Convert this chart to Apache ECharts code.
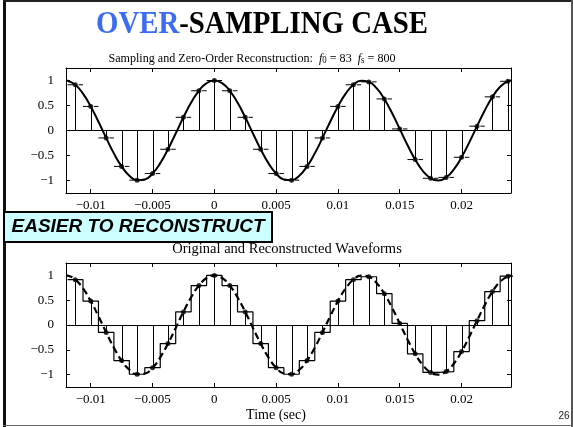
<!DOCTYPE html>
<html>
<head>
<meta charset="utf-8">
<script src="https://cdn.jsdelivr.net/npm/echarts@6/dist/echarts.min.js"></script>
<style>
html,body{margin:0;padding:0;background:#fff;}
#main{width:573px;height:427px;}
</style>
</head>
<body>
<div id="main"></div>
<script>
// ---- data ----
var sampleTimes = [-0.01125, -0.01, -0.00875, -0.0075, -0.00625, -0.005, -0.00375, -0.0025, -0.00125, 0,
  0.00125, 0.0025, 0.00375, 0.005, 0.00625, 0.0075, 0.00875, 0.01, 0.01125, 0.0125,
  0.01375, 0.015, 0.01625, 0.0175, 0.01875, 0.02, 0.02125, 0.0225, 0.02375];
var sampleValues = [0.9146, 0.4818, -0.1487, -0.7181, -0.9931, -0.8608, -0.3754, 0.2639, 0.7947, 1,
  0.7947, 0.2639, -0.3754, -0.8608, -0.9931, -0.7181, -0.1487, 0.4818, 0.9146, 0.9724,
  0.6311, 0.0314, -0.5814, -0.9558, -0.9382, -0.5358, 0.0863, 0.6730, 0.9837];
var curveTimes = [-0.012, -0.011875, -0.01125, -0.010625, -0.01, -0.009375, -0.00875, -0.008125, -0.0075, -0.006875,
  -0.00625, -0.005625, -0.005, -0.004375, -0.00375, -0.003125, -0.0025, -0.001875, -0.00125, -0.000625,
  0, 0.000625, 0.00125, 0.001875, 0.0025, 0.003125, 0.00375, 0.004375, 0.005, 0.005625,
  0.00625, 0.006875, 0.0075, 0.008125, 0.00875, 0.009375, 0.01, 0.010625, 0.01125, 0.011875,
  0.0125, 0.013125, 0.01375, 0.014375, 0.015, 0.015625, 0.01625, 0.016875, 0.0175, 0.018125,
  0.01875, 0.019375, 0.02, 0.020625, 0.02125, 0.021875, 0.0225, 0.023125, 0.02375, 0.024];
var curveValues = [0.9997, 0.9959, 0.9146, 0.7370, 0.4818, 0.1758, -0.1487, -0.4575, -0.7181, -0.9032,
  -0.9931, -0.9784, -0.8608, -0.6525, -0.3754, -0.0589, 0.2639, 0.5587, 0.7947, 0.9473,
  1, 0.9473, 0.7947, 0.5587, 0.2639, -0.0589, -0.3754, -0.6525, -0.8608, -0.9784,
  -0.9931, -0.9032, -0.7181, -0.4575, -0.1487, 0.1758, 0.4818, 0.7370, 0.9146, 0.9959,
  0.9724, 0.8465, 0.6311, 0.3498, 0.0314, -0.2903, -0.5814, -0.8113, -0.9558, -0.9996,
  -0.9382, -0.7781, -0.5358, -0.2373, 0.0863, 0.4007, 0.6730, 0.8744, 0.9837, 0.9987];
var xTicks = [-0.01, -0.005, 0, 0.005, 0.01, 0.015, 0.02];
var yTicks = [-1, -0.5, 0, 0.5, 1];
var xRange = [-0.012, 0.024];
var yRange = [-1.25, 1.25];

// ---- derived structures for the library ----
var T = sampleTimes[1] - sampleTimes[0];
var samplePts = sampleTimes.map(function (t, i) { return [t, sampleValues[i]]; });
var curvePts = curveTimes.map(function (t, i) { return [t, curveValues[i]]; });
var stairPts = [];
sampleTimes.forEach(function (t, i) {
  stairPts.push([t - T / 2, sampleValues[i]]);
  stairPts.push([t + T / 2, sampleValues[i]]);
});

var SERIF = '"Liberation Serif", "Times New Roman", serif';
function fmt(v) { return String(v).replace('-', '\u2212'); }

function xAxes(gridIndex) {
  return [{
    type: 'value', gridIndex: gridIndex, position: 'bottom', min: xRange[0], max: xRange[1],
    axisLine: { show: true, onZero: false, lineStyle: { color: '#000', width: 1 } },
    axisTick: { show: true, inside: true, length: 4, customValues: xTicks, lineStyle: { color: '#000' } },
    axisLabel: { show: true, customValues: xTicks, formatter: fmt, color: '#000', fontFamily: SERIF, fontSize: 13, margin: 6 },
    splitLine: { show: false }
  }, {
    type: 'value', gridIndex: gridIndex, position: 'top', min: xRange[0], max: xRange[1],
    axisLine: { show: true, onZero: false, lineStyle: { color: '#000', width: 1 } },
    axisTick: { show: true, inside: true, length: 4, customValues: xTicks, lineStyle: { color: '#000' } },
    axisLabel: { show: false },
    splitLine: { show: false }
  }];
}
function yAxes(gridIndex) {
  return [{
    type: 'value', gridIndex: gridIndex, position: 'left', min: yRange[0], max: yRange[1],
    axisLine: { show: true, onZero: false, lineStyle: { color: '#000', width: 1 } },
    axisTick: { show: true, inside: true, length: 4, customValues: yTicks, lineStyle: { color: '#000' } },
    axisLabel: { show: true, customValues: yTicks, formatter: fmt, color: '#000', fontFamily: SERIF, fontSize: 13, margin: 12 },
    splitLine: { show: false }
  }, {
    type: 'value', gridIndex: gridIndex, position: 'right', min: yRange[0], max: yRange[1],
    axisLine: { show: true, onZero: false, lineStyle: { color: '#000', width: 1 } },
    axisTick: { show: true, inside: true, length: 4, customValues: yTicks, lineStyle: { color: '#000' } },
    axisLabel: { show: false },
    splitLine: { show: false }
  }];
}

function stemSeries(xi, yi) {
  return {
    type: 'custom', xAxisIndex: xi, yAxisIndex: yi, data: samplePts, silent: true, clip: true,
    renderItem: function (params, api) {
      var p0 = api.coord([api.value(0), 0]);
      var p1 = api.coord([api.value(0), api.value(1)]);
      var x = Math.round(p0[0]) + 0.5;
      return { type: 'line', shape: { x1: x, y1: p0[1], x2: x, y2: p1[1] }, style: { stroke: '#000', lineWidth: 1 } };
    },
    markLine: {
      silent: true, symbol: 'none', label: { show: false },
      lineStyle: { color: '#000', width: 1, type: 'solid' },
      data: [{ yAxis: 0 }]
    }
  };
}

var option = {
  animation: false,
  backgroundColor: '#fff',
  grid: [
    { left: 66, top: 68, width: 445, height: 125, containLabel: false },
    { left: 66, top: 263, width: 445, height: 124, containLabel: false }
  ],
  xAxis: xAxes(0).concat(xAxes(1)),
  yAxis: yAxes(0).concat(yAxes(1)),
  series: [
    stemSeries(0, 0),
    {
      type: 'custom', xAxisIndex: 0, yAxisIndex: 0, data: samplePts, silent: true, clip: true,
      renderItem: function (params, api) {
        var a = api.coord([api.value(0) - T / 2, api.value(1)]);
        var b = api.coord([api.value(0) + T / 2, api.value(1)]);
        return { type: 'line', shape: { x1: a[0], y1: a[1], x2: b[0], y2: b[1] },
          style: { stroke: '#000', lineWidth: 1, lineDash: [6, 2, 1, 2] } };
      }
    },
    {
      type: 'line', xAxisIndex: 0, yAxisIndex: 0, data: curvePts, smooth: 0.5, showSymbol: false,
      lineStyle: { color: '#000', width: 2 }, silent: true
    },
    {
      type: 'scatter', xAxisIndex: 0, yAxisIndex: 0, data: samplePts, symbolSize: 5,
      itemStyle: { color: '#000' }, silent: true
    },
    stemSeries(2, 2),
    {
      type: 'line', xAxisIndex: 2, yAxisIndex: 2, data: stairPts, showSymbol: false,
      lineStyle: { color: '#000', width: 1.2 }, silent: true
    },
    {
      type: 'line', xAxisIndex: 2, yAxisIndex: 2, data: curvePts, smooth: 0.5, showSymbol: false,
      lineStyle: { color: '#000', width: 2.2, type: [7, 4] }, silent: true
    },
    {
      type: 'scatter', xAxisIndex: 2, yAxisIndex: 2, data: samplePts, symbolSize: 5,
      itemStyle: { color: '#000' }, silent: true
    }
  ],
  graphic: [
    { type: 'rect', shape: { x: 3, y: 0, width: 3, height: 427 }, style: { fill: '#111' }, silent: true },
    { type: 'rect', shape: { x: 3, y: 0, width: 570, height: 2 }, style: { fill: '#222' }, silent: true },
    { type: 'rect', shape: { x: 571, y: 0, width: 2, height: 427 }, style: { fill: '#555' }, silent: true },
    { type: 'rect', shape: { x: 3, y: 425, width: 570, height: 1 }, style: { fill: '#666' }, silent: true },
    {
      type: 'text', x: 262, y: 25, scaleX: 0.9, silent: true,
      style: {
        text: '{a|OVER}{b|-SAMPLING CASE}', align: 'center', verticalAlign: 'middle',
        rich: {
          a: { fontFamily: SERIF, fontWeight: 'bold', fontSize: 32, fill: '#3b6cf2' },
          b: { fontFamily: SERIF, fontWeight: 'bold', fontSize: 32, fill: '#000' }
        }
      }
    },
    {
      type: 'text', x: 252, y: 55, scaleX: 0.93, silent: true,
      style: {
        text: '{n|Sampling and Zero-Order Reconstruction:  }{i|f}{s|0}{n| = 83  }{i|f}{s|s}{n| = 800}',
        align: 'center', verticalAlign: 'middle',
        rich: {
          n: { fontFamily: SERIF, fontSize: 13, fill: '#000', lineHeight: 20, verticalAlign: 'bottom' },
          i: { fontFamily: SERIF, fontSize: 13, fontStyle: 'italic', fill: '#000', lineHeight: 20, verticalAlign: 'bottom' },
          s: { fontFamily: SERIF, fontSize: 9.5, fill: '#000', lineHeight: 10, verticalAlign: 'bottom' }
        }
      }
    },
    {
      type: 'rect', shape: { x: 4, y: 212, width: 268, height: 30 }, silent: true,
      style: { fill: '#ccffff', stroke: '#000', lineWidth: 2 }
    },
    {
      type: 'text', x: 138, y: 227, silent: true,
      style: {
        text: 'EASIER TO RECONSTRUCT', align: 'center', verticalAlign: 'middle',
        fontFamily: '"Liberation Sans", Arial, sans-serif', fontWeight: 'bold', fontStyle: 'italic',
        fontSize: 19, fill: '#000'
      }
    },
    {
      type: 'text', x: 287, y: 249, silent: true,
      style: { text: 'Original and Reconstructed Waveforms', align: 'center', verticalAlign: 'middle',
        fontFamily: SERIF, fontSize: 14.5, fill: '#000' }
    },
    {
      type: 'text', x: 276, y: 415, silent: true,
      style: { text: 'Time (sec)', align: 'center', verticalAlign: 'middle',
        fontFamily: SERIF, fontSize: 14, fill: '#000' }
    },
    {
      type: 'text', x: 564, y: 416, silent: true,
      style: { text: '26', align: 'center', verticalAlign: 'middle',
        fontFamily: '"Liberation Sans", Arial, sans-serif', fontSize: 10, fill: '#222' }
    }
  ]
};

var chart = echarts.init(document.getElementById('main'), null, { renderer: 'canvas' });
chart.setOption(option);
</script>
</body>
</html>
